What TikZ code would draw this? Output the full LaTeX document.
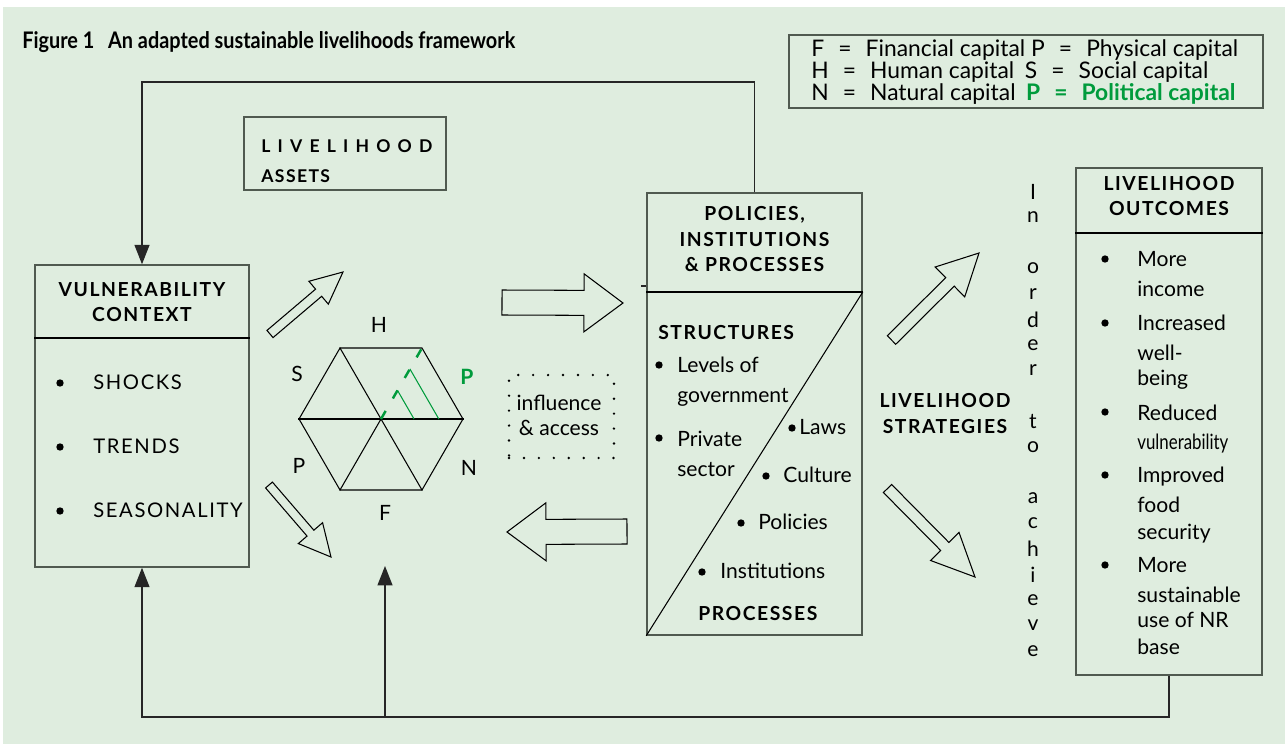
\documentclass[tikz,border=0pt]{standalone}
\usepackage{fontspec}
\setmainfont{Lato}
\newfontfamily\spacedfont[LetterSpace=8]{Lato}
\newfontfamily\narrowfont[FakeStretch=0.8]{Lato}
\newfontfamily\titlefont[FakeStretch=0.87]{Lato}
\usetikzlibrary{calc,arrows.meta,shapes.geometric}
\definecolor{bggreen}{RGB}{223,237,223}
\definecolor{pgreen}{RGB}{0,155,60}
\definecolor{boxgray}{RGB}{80,90,80}
\tikzstyle{box}=[draw=boxgray,line width=0.9pt,inner sep=0pt]
\tikzstyle{divline}=[draw=black,line width=0.7pt]
\tikzstyle{txt}=[inner sep=0pt,font=\fontsize{12}{14}\selectfont]
\tikzstyle{legtxt}=[inner sep=0pt,anchor=mid west,font=\fontsize{13}{14}\selectfont]
\tikzstyle{caps}=[inner sep=0pt,font=\spacedfont\fontsize{11.5}{14}\selectfont]
\tikzstyle{head}=[inner sep=0pt,font=\spacedfont\bfseries\fontsize{11}{14}\selectfont]
\tikzstyle{smallhead}=[inner sep=0pt,anchor=mid west,font=\spacedfont\bfseries\fontsize{10}{12}\selectfont]
\tikzstyle{bul}=[circle,fill=black,inner sep=0pt,minimum size=4.2pt]
\tikzstyle{fb}=[draw=black!85,line width=0.7pt]
\tikzstyle{fbarrow}=[-{Triangle[width=8.5pt,length=11pt]}]
\tikzstyle{block}=[draw=black,line width=0.6pt,line join=miter]
\newcommand{\eqs}{\hspace{8pt}=\hspace{8pt}}
\newcommand{\blockarrow}[5]{%
  \coordinate (hb) at ($(#2)!#5!(#1)$);
  \draw[block] ($(#1)!#3!90:(#2)$) -- ($(hb)!#3!90:(#2)$) -- ($(hb)!#4!90:(#2)$) -- (#2)
    -- ($(hb)!#4!-90:(#2)$) -- ($(hb)!#3!-90:(#2)$) -- ($(#1)!#3!-90:(#2)$) -- cycle;}
\begin{document}
\begin{tikzpicture}[x=0.02cm,y=-0.02cm]
\useasboundingbox (0,0) rectangle (1285,744);
\fill[white] (0,0) rectangle (1285,744);
\fill[bggreen] (3,7) rectangle (1285,744);

\node[anchor=base west,inner sep=0pt,font=\titlefont\bfseries\fontsize{13}{15}\selectfont] (title) at (22,48) {Figure 1\hspace{0.6em}An adapted sustainable livelihoods framework};

\node[box,minimum width=9.48cm,minimum height=1.46cm] (legend) at (1026,71.5) {};
\node[legtxt] (leg1) at (811,52) {F\eqs Financial capital P\eqs Physical capital};
\node[legtxt] (leg2) at (811,74) {H\eqs Human capital\hspace{6pt}S\eqs Social capital};
\node[legtxt] (leg3) at (811,96) {N\eqs Natural capital\hspace{6pt}{\color{pgreen}\bfseries P\eqs Political capital}};

\node[box,minimum width=4.04cm,minimum height=1.46cm] (la) at (345,153.5) {};
\node[smallhead] (la1) at (261,148) {\spaceskip=0.41em L I V E L I H O O D};
\node[smallhead] (la2) at (261,178) {ASSETS};

\node[box,minimum width=4.28cm,minimum height=6.04cm] (vc) at (142,416) {};
\draw[divline] (vc.west |- 0,338) -- (vc.east |- 0,338);
\node[head] (vch1) at (142,290) {VULNERABILITY};
\node[head] (vch2) at (142,315) {CONTEXT};
\foreach \t/\y [count=\k] in {SHOCKS/383,TRENDS/447,SEASONALITY/511}
{
	\node[bul] (vcb\k) at (60,\y) {};
	\node[caps,anchor=mid west] (vct\k) at (93,\y+2) {\t};
}

\node[regular polygon,regular polygon sides=6,minimum size=3.28cm,draw,inner sep=0pt,line width=0.6pt] (hex) at (381,419) {};
\draw[line width=0.6pt] (hex.180) -- (hex.0);
\draw[line width=0.6pt] (hex.120) -- (hex.300);
\draw[line width=0.6pt] (hex.center) -- (hex.240);
\draw[pgreen,line width=1.4pt,dash pattern=on 5.3pt off 8.2pt] (hex.center) -- (hex.60);
\foreach \t in {0.4,0.7}
\draw[pgreen,line width=0.6pt] ($(hex.center)!\t!(hex.60)$) -- ($(hex.center)!\t!(hex.0)$);
\foreach \n/\x/\y in {H/379/325,S/297/374,P/299/466,N/469/468,F/385/513}
\node[txt] (lbl\n) at (\x,\y) {\n};
\node[txt,text=pgreen,font=\bfseries\fontsize{12}{14}\selectfont] (lblPo) at (467,377) {P};

\node[draw,line width=1.5pt,line cap=round,dash pattern=on 0pt off 8.5pt,minimum width=2.1cm,minimum height=1.66cm,inner sep=0pt] (infl) at (561.5,416.5) {};
\node[txt,align=center,font=\fontsize{12}{14.2}\selectfont] (infltxt) at (559,415.5) {influence\\\& access};

\coordinate (ulA) at (270,334);
\coordinate (ulB) at (343,272);
\coordinate (llA) at (269,485);
\coordinate (llB) at (331,557);
\coordinate (rA) at (502,302.5);
\coordinate (rB) at (623,303);
\coordinate (lA) at (627,531.5);
\coordinate (lB) at (507,532);
\coordinate (urA) at (891.5,340);
\coordinate (urB) at (979,253);
\coordinate (lrA) at (887.5,488.5);
\coordinate (lrB) at (975,577);
\blockarrow{ulA}{ulB}{0.094cm}{0.30cm}{0.64cm}
\blockarrow{llA}{llB}{0.09cm}{0.32cm}{0.63cm}
\blockarrow{rA}{rB}{0.25cm}{0.58cm}{0.78cm}
\blockarrow{lA}{lB}{0.25cm}{0.58cm}{0.78cm}
\blockarrow{urA}{urB}{0.12cm}{0.42cm}{0.82cm}
\blockarrow{lrA}{lrB}{0.115cm}{0.40cm}{0.86cm}

\node[box,minimum width=4.30cm,minimum height=8.84cm] (pip) at (754.5,414) {};
\draw[divline] (pip.west |- 0,292) -- (pip.east |- 0,292);
\draw[line width=0.6pt] (pip.south west) -- (pip.east |- 0,292);
\node[head] (piph1) at (754.5,215) {POLICIES,};
\node[head] (piph2) at (754.5,240) {INSTITUTIONS};
\node[head] (piph3) at (754.5,265) {\& PROCESSES};
\node[head,anchor=mid west] (struct) at (658,335) {STRUCTURES};
\node[bul] (pipb1) at (659,365) {};
\node[bul] (pipb2) at (659,438) {};
\foreach \t/\y [count=\k] in {Levels of/368,government/398,Private/442,sector/472}
\node[txt,anchor=mid west] (pipl\k) at (677,\y) {\t};
\foreach \bx/\tx/\y/\t [count=\k] in {792/799/430/Laws,766/783/478/Culture,741/758/525/Policies,702/720/574/Institutions}
{
	\node[bul] (pipc\k) at (\bx,\y-2) {};
	\node[txt,anchor=mid west] (pipr\k) at (\tx,\y) {\t};
}
\node[head,anchor=mid west] (proc) at (698,616) {PROCESSES};

\node[head] (ls1) at (945,401) {LIVELIHOOD};
\node[head] (ls2) at (945,427) {STRATEGIES};

\foreach \c/\k in {I/0,n/1,o/3,r/4,d/5,e/6,r/7,t/9,o/10,a/12,c/13,h/14,i/15,e/16,v/17,e/18}
\node[txt] (ach\k) at (1033,192+25.5*\k) {\c};

\node[box,minimum width=3.72cm,minimum height=10.14cm] (lo) at (1169,421.5) {};
\draw[divline] (lo.west |- 0,233) -- (lo.east |- 0,233);
\node[head] (loh1) at (1169,184) {LIVELIHOOD};
\node[head] (loh2) at (1169,209) {OUTCOMES};
\foreach \y [count=\k] in {259,323,412,475,565}
\node[bul] (lob\k) at (1105,\y) {};
\foreach \t/\y [count=\k] in {More/262,income/292,Increased/326,well-/356,being/381,Reduced/416,{\narrowfont vulnerability}/445,Improved/478,food/508,security/535,More/568,sustainable/598,use of NR/623,base/650}
\node[txt,anchor=mid west] (lot\k) at (1137,\y) {\t};

\coordinate (fbtop) at (0,82);
\coordinate (fbbot) at (0,717);
\coordinate (hexin) at (385,566);
\draw[fb,fbarrow] (pip.north) -- (pip.north |- fbtop) -| (vc.north);
\draw[fb,fbarrow] (lo.south) -- (lo.south |- fbbot) -| (vc.south);
\draw[fb,fbarrow] (hexin |- fbbot) -- (hexin);
\draw[fb] (pip.west |- 0,286) -- ++(-5,0);
\end{tikzpicture}
\end{document}
